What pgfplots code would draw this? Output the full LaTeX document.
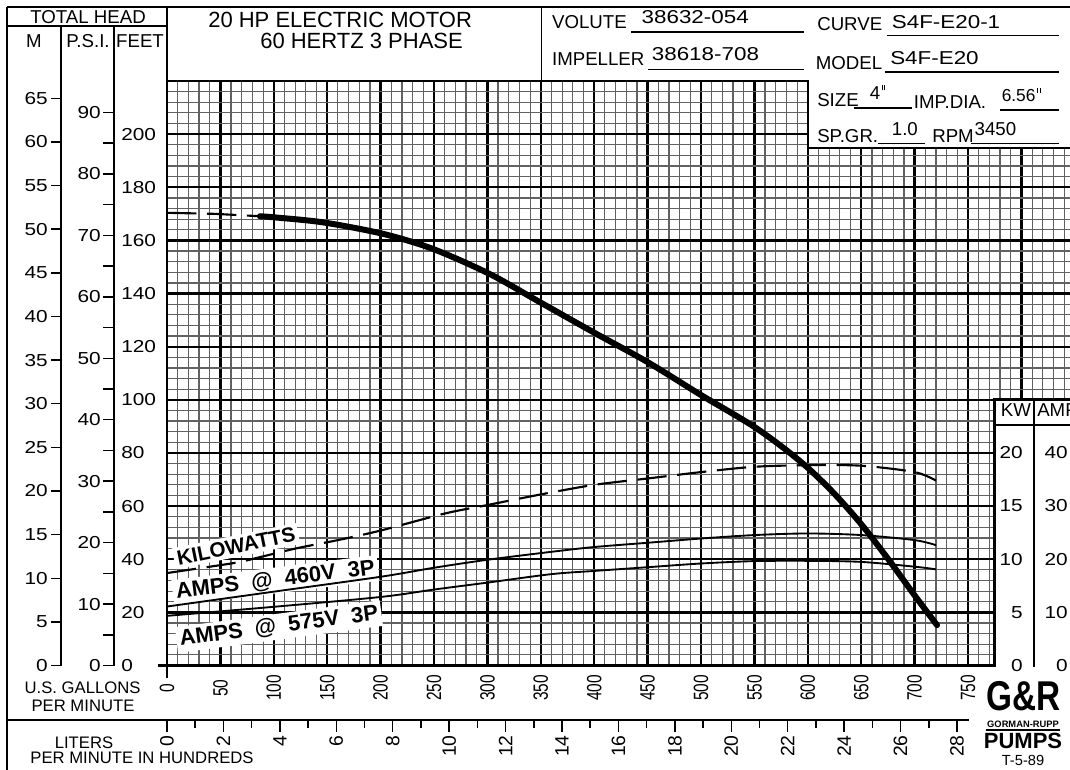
\documentclass[border=0pt]{standalone}
\usepackage{pgfplots}
\usepackage{pgfplotstable}
\pgfplotsset{compat=1.18}
\usepackage{fontspec}
\setmainfont{Liberation Sans}
\newfontfamily\wide[FakeStretch=1.2]{Liberation Sans}
\newfontfamily\narrow[FakeStretch=0.75]{Liberation Sans}
\newcommand\fs[1]{\fontsize{#1}{#1}\selectfont}
\newcommand\inch{\kern1pt\rule[0.95ex]{0.7pt}{0.5ex}\kern1.3pt\rule[0.95ex]{0.7pt}{0.5ex}}

% total head (feet) against U.S. gpm
\pgfplotstableread{
gpm ft
87 169.1
100 168.7
146 166.8
202 162.5
249 156.8
302 147.4
349 136.8
399 125.5
450 114.2
500 101.8
525 95.9
550 89.8
575 82.6
600 74.4
625 64.6
650 53.2
675 40.2
700 26.4
721 15.2
}\head
\pgfplotstableread{
gpm ft
0 170.4
45 170.0
87 169.1
}\headdash
% kilowatts
\pgfplotstableread{
gpm kw
0 8.7
60 9.6
75 9.9
120 11.0
160 11.8
200 12.7
260 14.3
300 15.1
350 16.1
400 17.0
450 17.6
500 18.2
550 18.7
600 18.85
650 18.8
700 18.2
720 17.4
}\kw
% amps at 460 V and 575 V
\pgfplotstableread{
gpm a460 a575
0 11.1 9.35
100 13.9 11.05
200 16.7 12.9
250 18.4 14.3
300 19.9 15.6
360 21.4 17.2
400 22.3 17.8
450 23.1 18.5
500 23.9 19.2
550 24.55 19.65
600 24.85 19.7
650 24.55 19.5
700 23.6 18.6
720 22.65 18.1
}\amps

\begin{document}
\begin{tikzpicture}
\path[use as bounding box] (0pt,0pt) rectangle (802.5pt,-576.75pt);

\begin{axis}[at={(125.25pt,-499.125pt)}, anchor=south west,
  scale only axis, width=677.25pt, height=438.375pt,
  xmin=0, xmax=845.5, ymin=0, ymax=220,
  axis line style={draw=none},
  xtick={0,50,...,800},
  xticklabels={0,50,100,150,200,250,300,350,400,450,500,550,600,650,700,750,{}},
  minor xtick={0,10,...,840},
  ytick={0,20,...,220},
  yticklabels={0,20,40,60,80,100,120,140,160,180,200,{}},
  minor ytick={0,4,...,216},
  grid=both,
  major grid style={black, line width=1.75pt},
  minor grid style={black!62, line width=0.9pt},
  tick style={draw=none},
  major tick length=0pt, minor tick length=0pt,
  xticklabel style={font=\narrow\fs{15.5}, inner sep=0pt, yshift=-16.9pt, rotate=90, anchor=center},
  yticklabel style={font=\wide\fs{13}, inner sep=0pt, anchor=west, xshift=-34.5pt},
]
\node[rotate=11.5, anchor=base west, fill=white, inner sep=2.5pt, font=\bfseries\fs{15.5}]
  at (axis cs:7.5,37.5) {KILOWATTS};
\node[rotate=7, anchor=base west, fill=white, inner sep=2.5pt, font=\bfseries\fs{16.5}]
  at (axis cs:5.9,25.0) {AMPS~~@~~460V~~3P};
\node[rotate=7.5, anchor=base west, fill=white, inner sep=2.5pt, font=\bfseries\fs{16.5}]
  at (axis cs:9.4,7.3) {AMPS~~@~~575V~~3P};

\addplot[black, line width=1.6pt, dash pattern=on 22pt off 8pt] table[x=gpm, y=ft] {\headdash};
\addplot[black, line width=4.5pt, smooth, line cap=round] table[x=gpm, y=ft] {\head};
\addplot[black, line width=1.6pt, smooth, dash pattern=on 22pt off 8pt]
  table[x=gpm, y expr=4*\thisrow{kw}] {\kw};
\addplot[black, line width=1.4pt, smooth] table[x=gpm, y expr=2*\thisrow{a460}] {\amps};
\addplot[black, line width=1.4pt, smooth] table[x=gpm, y expr=2*\thisrow{a575}] {\amps};
\end{axis}

\begin{scope}[x=0.75pt, y=-0.75pt, every node/.style={inner sep=0pt}]
% blank the two data boxes cut out of the grid
\fill[white] (808.8,78) rectangle (1072,146.8);
\fill[white] (995.7,400.5) rectangle (1072,690);

% grid outline
\draw[line width=1.9pt] (167,677.5) -- (167,81) -- (807.8,81) -- (807.8,147.8) -- (1071,147.8);
\draw[line width=1.9pt] (1071,399.5) -- (994.7,399.5) -- (994.7,665.5) -- (157.5,665.5);

% frame
\draw[line width=1.1pt] (7,7) -- (1071,7);
\draw[line width=1.1pt] (7,7) -- (7,770);
\draw[line width=1.1pt] (167,7) -- (167,81);
\draw[line width=1.1pt] (541.7,7) -- (541.7,81);
\draw[line width=1.1pt] (7,26) -- (167,26);
\draw[line width=1.1pt] (61,26) -- (61,665.5);
\draw[line width=1.1pt] (114,26) -- (114,665.5);
\draw[line width=1.1pt] (7,720) -- (969,720);

% head scales
\node[font=\fs{14}] at (88,17) {TOTAL HEAD};
\node[font=\fs{14}] at (34,41.3) {M};
\node[font=\fs{14}] at (88,41.3) {P.S.I.};
\node[font=\fs{14}] at (140,41.3) {FEET};
\foreach \m in {0,5,...,65} {
  \draw[line width=1.1pt] (51,{665.5-8.727*\m}) -- (61,{665.5-8.727*\m});
  \node[anchor=east, font=\wide\fs{13}] at (48,{665.5-8.727*\m}) {\m};
}
\foreach \p in {0,10,...,90} {
  \draw[line width=1.1pt] (103,{665.5-6.145*\p}) -- (114,{665.5-6.145*\p});
  \node[anchor=east, font=\wide\fs{13}] at (101,{665.5-6.145*\p}) {\p};
}
\foreach \p in {5,15,...,85}
  \draw[line width=1.1pt] (103,{665.5-6.145*\p}) -- (114,{665.5-6.145*\p});

% title
\node[anchor=base west, font=\fs{16.5}] at (208,27.5) {20 HP ELECTRIC MOTOR};
\node[anchor=base west, font=\fs{16.5}] at (260,48) {60 HERTZ 3 PHASE};

% pump data block
\begin{scope}[every node/.append style={anchor=base west, font=\fs{14}}]
\node at (551.8,28.7) {VOLUTE};
\node[font=\wide\fs{14}] at (641.4,23.7) {38632-054};
\draw[line width=1pt] (631,32) -- (803.7,32);
\node at (817,30.4) {CURVE};
\node[font=\wide\fs{14}] at (891.6,28.7) {S4F-E20-1};
\draw[line width=1pt] (886.5,35.5) -- (1059,35.5);
\node at (551.8,65.9) {IMPELLER};
\node[font=\wide\fs{14}] at (651.6,60.9) {38618-708};
\draw[line width=1pt] (648,69.3) -- (803.7,69.3);
\node at (815.5,69.3) {MODEL};
\node[font=\wide\fs{14}] at (890,64.2) {S4F-E20};
\draw[line width=1pt] (884.8,72) -- (1059,72);
\node at (817,106.5) {SIZE};
\node at (869.6,99.7) {4\inch};
\draw[line width=1pt] (854,108) -- (912,108);
\node at (913.6,108) {IMP.DIA.};
\node[font=\fs{13}] at (1001.5,101.4) {6.56\inch};
\draw[line width=1pt] (999.8,110) -- (1059,110);
\node at (817,142) {SP.GR.};
\node at (891.6,135) {1.0};
\draw[line width=1pt] (878,143.7) -- (925.4,143.7);
\node at (932,142) {RPM};
\node at (974.4,135) {3450};
\draw[line width=1pt] (971,143.7) -- (1059,143.7);
\end{scope}

% KW / AMP scale
\node[font=\fs{14}] at (1016,410) {KW};
\node[anchor=west, font=\fs{14}] at (1037,410) {AMP};
\draw[line width=1.1pt] (994.7,425) -- (1071,425);
\draw[line width=1.1pt] (1034,399.5) -- (1034,667);
\foreach \k in {0,5,...,20}
  \node[anchor=east, font=\wide\fs{13}] at (1023,{665.5-10.64*\k}) {\k};
\foreach \a in {0,10,...,40}
  \node[anchor=east, font=\wide\fs{13}] at (1068,{665.5-5.32*\a}) {\a};

% flow captions and liters scale
\node[font=\fs{12.5}] at (82.6,688) {U.S. GALLONS};
\node[font=\fs{12.5}] at (83,706) {PER MINUTE};
\node[font=\fs{12.5}] at (84,743) {LITERS};
\node[font=\fs{12.5}] at (142,758) {PER MINUTE IN HUNDREDS};
\foreach \v in {0,2,...,28} {
  \draw[line width=1.1pt] ({167+28.214*\v},720) -- ({167+28.214*\v},732);
  \node[rotate=90, anchor=east, font=\fs{14.5}] at ({167+28.214*\v},735) {\v};
}
\foreach \v in {1,3,...,27}
  \draw[line width=1.1pt] ({167+28.214*\v},720) -- ({167+28.214*\v},728);

% logo
\node at (1024,696.5) {\scalebox{1}[1.25]{\bfseries\fs{25}G\&R}};
\node[font=\bfseries\fs{7}] at (1023,724) {GORMAN-RUPP};
\draw[line width=1.5pt] (986,729.5) -- (1060,729.5);
\node[font=\bfseries\fs{16.5}] at (1023,741) {PUMPS};
\node[font=\fs{11}] at (1023,760.5) {T-5-89};
\end{scope}
\end{tikzpicture}
\end{document}
